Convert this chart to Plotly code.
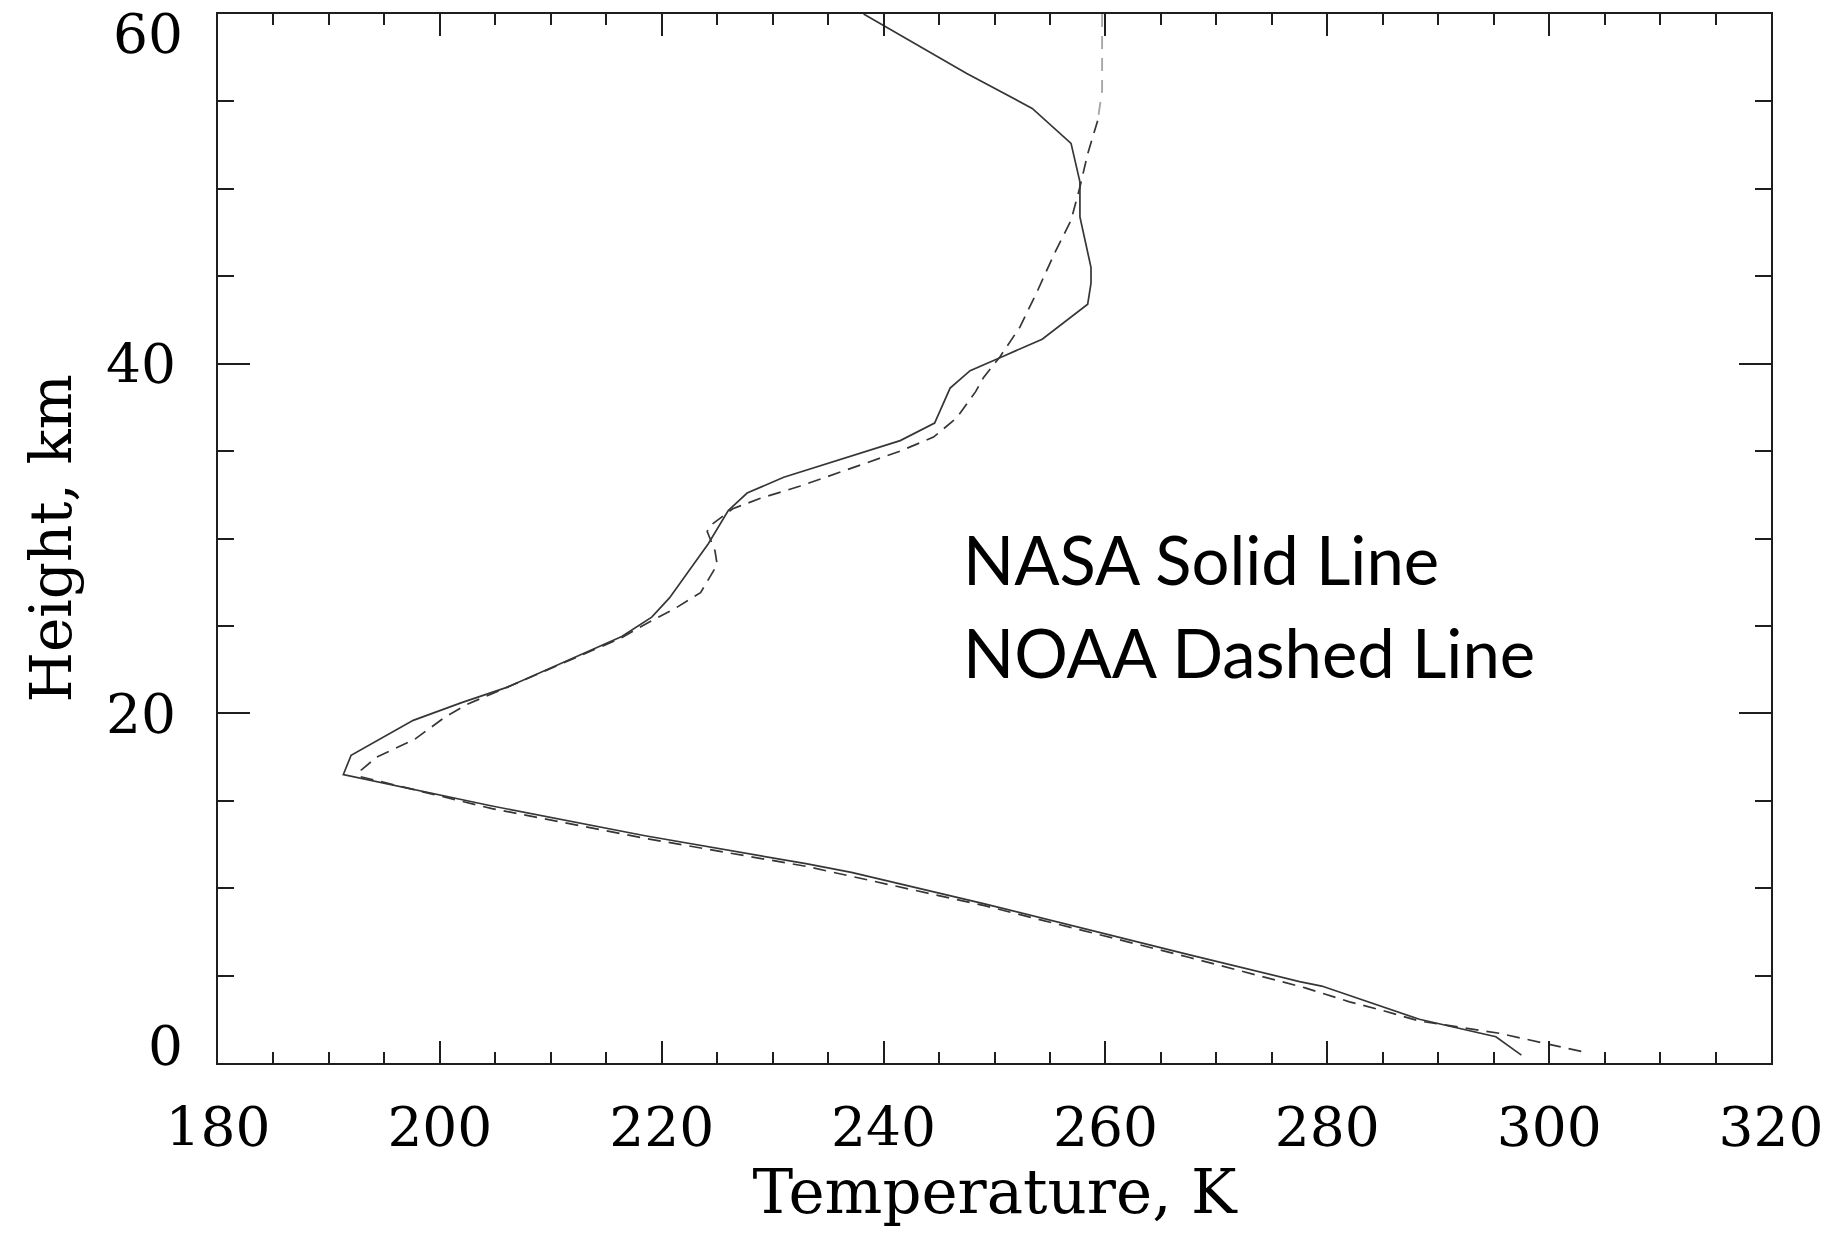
import plotly.graph_objects as go

# ---------------- data ----------------
NASA_T = [238.2, 247.5, 253.4, 256.9, 257.7, 257.7, 258.7, 258.7, 258.4, 254.3,
          250.7, 247.8, 246.0, 244.6, 241.5, 236.1, 231.0, 227.7, 226.0, 224.2,
          220.7, 219.1, 216.4, 206.1, 201.9, 197.6, 192.0, 191.3, 204.7, 218.5,
          233.0, 237.1, 249.1, 267.5, 277.5, 279.5, 288.3, 295.2, 297.5]
NASA_H = [60.0, 56.6, 54.6, 52.6, 50.4, 48.4, 45.5, 44.6, 43.4, 41.4,
          40.4, 39.6, 38.6, 36.6, 35.6, 34.5, 33.5, 32.6, 31.6, 29.7,
          26.6, 25.5, 24.4, 21.5, 20.6, 19.6, 17.6, 16.5, 14.7, 13.0,
          11.4, 10.9, 9.1, 6.2, 4.65, 4.4, 2.5, 1.5, 0.45]

NOAA_TOP_T = [259.7, 259.7, 259.3]
NOAA_TOP_H = [60.0, 55.6, 53.9]

NOAA_T = [259.3, 258.4, 257.7, 256.9, 255.4, 253.9, 252.3, 250.5, 249.0, 248.3,
          246.6, 244.5, 241.5, 237.9, 232.5, 228.9, 226.4, 224.3, 224.1, 224.8,
          225.0, 223.5, 221.2, 219.1, 216.3, 206.1, 202.4, 200.5, 197.7, 194.3,
          192.9, 192.7, 204.7, 218.5, 233.0, 249.1, 267.5, 278.0, 282.0, 285.0,
          288.3, 295.5, 299.5, 303.0]
NOAA_H = [53.9, 52.0, 50.1, 48.2, 46.3, 44.2, 42.1, 40.4, 39.2, 38.4,
          36.9, 35.8, 35.0, 34.2, 33.0, 32.3, 31.7, 30.7, 30.4, 29.3,
          28.5, 26.9, 26.0, 25.3, 24.3, 21.5, 20.5, 19.8, 18.5, 17.5,
          16.75, 16.4, 14.55, 12.85, 11.25, 9.0, 6.05, 4.3, 3.5, 3.0,
          2.4, 1.7, 1.16, 0.65]

X_TICKS = [180, 200, 220, 240, 260, 280, 300, 320]
Y_TICKS = [0, 20, 40, 60]
X_TITLE = "Temperature, K"
Y_TITLE = "Height, km"
NOTE_LINES = ["NASA Solid Line", "NOAA Dashed Line"]

# ---------------- style ----------------
SERIF = "DejaVu Serif"
AX = "#1e1e1e"
LINE = "#363636"

fig = go.Figure()
fig.add_trace(go.Scatter(x=NASA_T, y=NASA_H, mode="lines",
                         line=dict(color=LINE, width=1.7), showlegend=False))
fig.add_trace(go.Scatter(x=NOAA_TOP_T, y=NOAA_TOP_H, mode="lines",
                         line=dict(color="#a8a8a8", width=1.9, dash="13px,9px"),
                         showlegend=False))
fig.add_trace(go.Scatter(x=NOAA_T, y=NOAA_H, mode="lines",
                         line=dict(color=LINE, width=1.7, dash="13px,8px"),
                         showlegend=False))

axis_common = dict(showgrid=False, zeroline=False, showline=True, linewidth=2,
                   linecolor=AX, mirror="ticks", ticks="inside", tickwidth=2,
                   tickcolor=AX)

fig.update_xaxes(range=[180, 320], tickvals=X_TICKS,
                 ticktext=[str(v) for v in X_TICKS], ticklen=22,
                 minor=dict(dtick=5, ticks="inside", ticklen=11, tickwidth=2,
                            tickcolor=AX),
                 tickfont=dict(family=SERIF, size=55, color="black"),
                 ticklabelstandoff=15, ticklabeloverflow="allow",
                 title=dict(text=X_TITLE, font=dict(family=SERIF, size=61, color="black"),
                            standoff=14),
                 **axis_common)

inner_y = [v for v in Y_TICKS if v not in (min(Y_TICKS), max(Y_TICKS))]
fig.update_yaxes(range=[0, 60], tickvals=Y_TICKS,
                 ticktext=[str(v) if v in inner_y else "" for v in Y_TICKS],
                 ticklen=32,
                 minor=dict(dtick=5, ticks="inside", ticklen=16, tickwidth=2,
                            tickcolor=AX),
                 tickfont=dict(family=SERIF, size=55, color="black"),
                 ticklabelstandoff=29,
                 title=dict(text=Y_TITLE, font=dict(family=SERIF, size=58, color="black"),
                            standoff=16),
                 **axis_common)

# end labels of the y axis sit inside the range (as in the reference)
for v, shift in ((min(Y_TICKS), 17), (max(Y_TICKS), -20)):
    fig.add_annotation(text=str(v), xref="paper", x=0, y=v, yref="y",
                       xanchor="right", yanchor="middle", xshift=-33, yshift=shift,
                       showarrow=False,
                       font=dict(family=SERIF, size=55, color="black"))

for i, line in enumerate(NOTE_LINES):
    fig.add_annotation(text=line, x=247.0, y=28.8 - i * 5.3, xref="x", yref="y",
                       xanchor="left", yanchor="middle", showarrow=False,
                       font=dict(family="Lato", size=67, color="black"))

fig.update_layout(width=1823, height=1219,
                  margin=dict(l=210, r=60, t=6, b=164, autoexpand=False),
                  paper_bgcolor="white", plot_bgcolor="white")

fig.write_html("out.html")
